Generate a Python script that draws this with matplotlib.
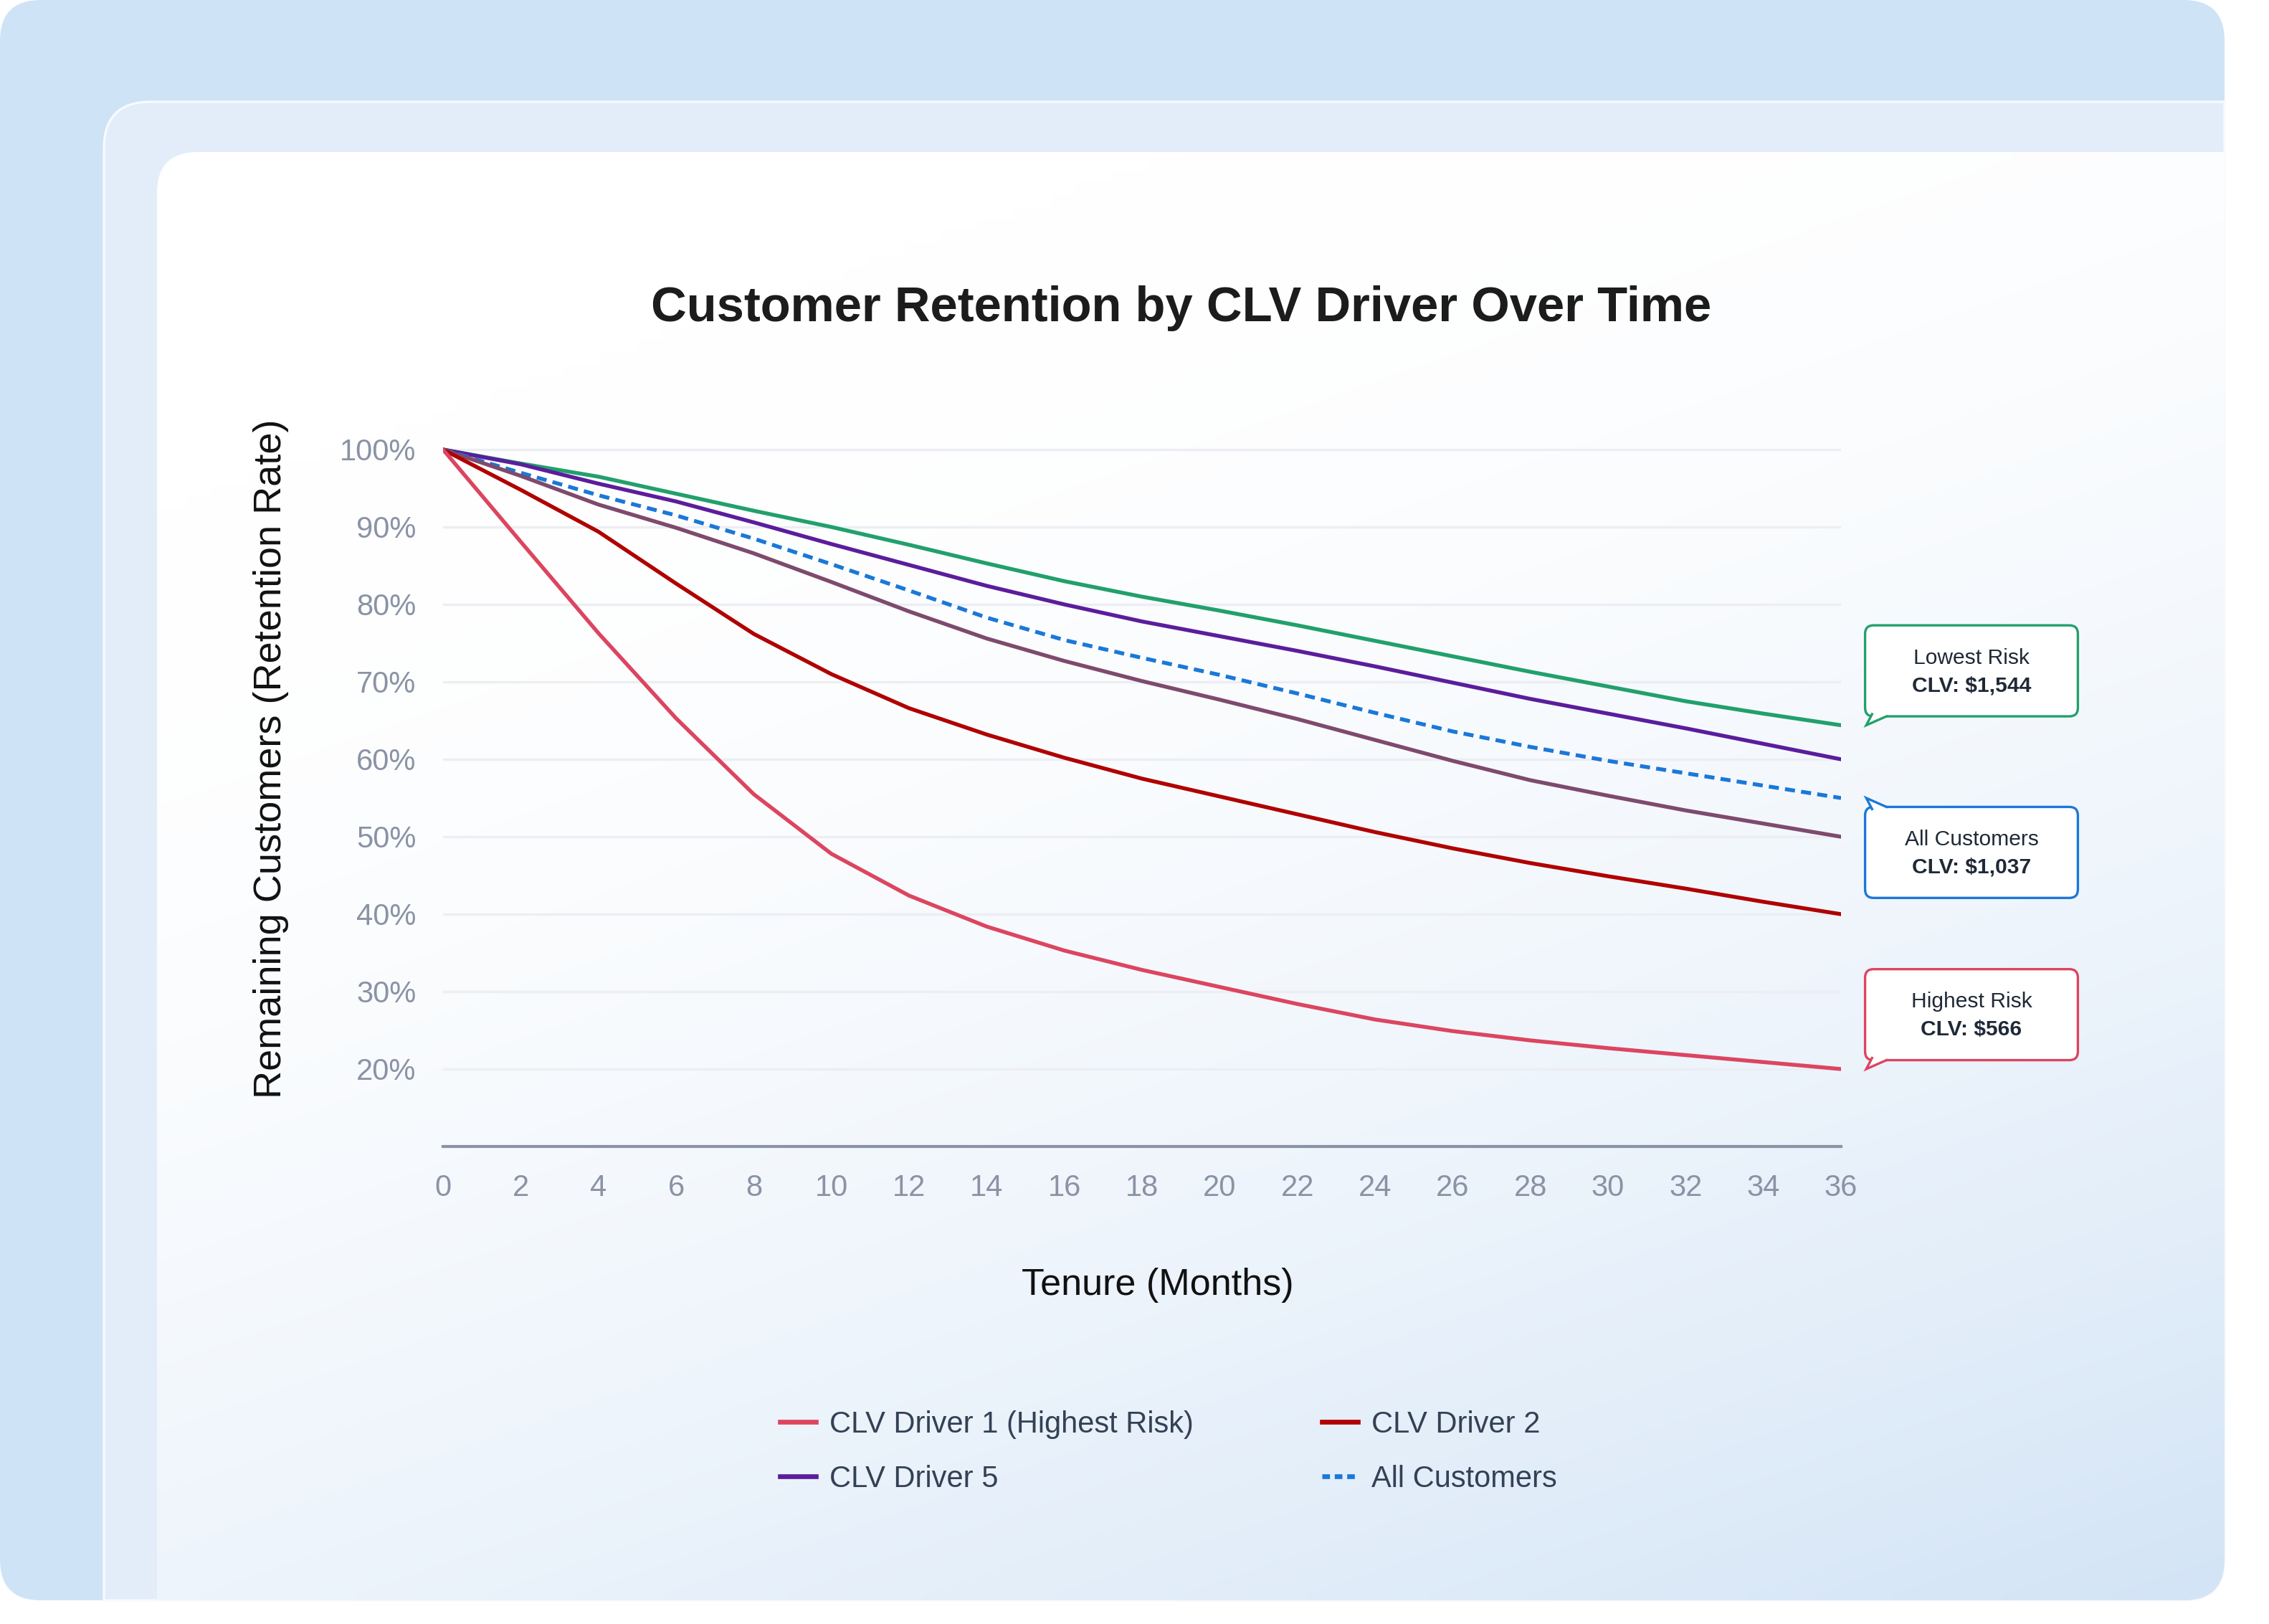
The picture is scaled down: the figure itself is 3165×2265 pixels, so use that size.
import numpy as np
import matplotlib.pyplot as plt
from matplotlib.patches import FancyBboxPatch, PathPatch, Polygon
from matplotlib.path import Path
from matplotlib.lines import Line2D
from matplotlib.colors import to_rgb

plt.rcParams['font.family'] = ['Liberation Sans', 'DejaVu Sans']

# data (every 2 months)
months = np.arange(0, 37, 2)
driver1 = [100, 88.1, 76.3, 65.3, 55.5, 47.8, 42.4, 38.4, 35.3, 32.8, 30.6, 28.4, 26.4, 24.9, 23.7, 22.7, 21.8, 20.9, 20.0]
driver2 = [100, 94.8, 89.4, 82.7, 76.2, 71.0, 66.6, 63.2, 60.2, 57.5, 55.2, 52.9, 50.6, 48.5, 46.6, 44.9, 43.3, 41.6, 40.0]
driver3 = [100, 96.6, 92.9, 89.9, 86.6, 82.9, 79.1, 75.6, 72.7, 70.1, 67.7, 65.2, 62.5, 59.8, 57.3, 55.3, 53.4, 51.7, 50.0]
driver4 = [100, 98.2, 96.5, 94.3, 92.1, 90.0, 87.7, 85.3, 83.0, 81.0, 79.2, 77.3, 75.3, 73.3, 71.3, 69.4, 67.5, 65.9, 64.4]
driver5 = [100, 98.1, 95.6, 93.3, 90.6, 87.8, 85.1, 82.4, 80.0, 77.8, 75.9, 74.0, 72.0, 69.9, 67.8, 65.9, 64.0, 62.0, 60.0]
all_customers = [100, 97.0, 94.1, 91.5, 88.5, 85.2, 81.8, 78.3, 75.4, 73.1, 70.9, 68.5, 66.0, 63.6, 61.6, 59.8, 58.2, 56.6, 55.0]

yticks = [20, 30, 40, 50, 60, 70, 80, 90, 100]
xticks = list(range(0, 37, 2))

callouts = [
    ('Lowest Risk', 'CLV: $1,544', driver4, '#22a06b', 'up'),
    ('All Customers', 'CLV: $1,037', all_customers, '#1a78d8', 'down'),
    ('Highest Risk', 'CLV: $566', driver1, '#dc4560', 'up'),
]

W, H = 3165, 2265
fig = plt.figure(figsize=(W / 300, H / 300), dpi=300)
fig.patch.set_facecolor('white')

# ---- background panels (pixel coordinates) ----
bg = fig.add_axes([0, 0, 1, 1], zorder=-10)
bg.axis('off')


def corner_path(x0, y0, x1, y1, r_tl, r_br):
    verts = [(x0, y0 + r_tl), (x0, y0), (x0 + r_tl, y0),
             (x1, y0), (x1, y1 - r_br), (x1, y1), (x1 - r_br, y1),
             (x0, y1), (x0, y0 + r_tl)]
    codes = [Path.MOVETO, Path.CURVE3, Path.CURVE3, Path.LINETO, Path.LINETO,
             Path.CURVE3, Path.CURVE3, Path.LINETO, Path.CLOSEPOLY]
    return Path(verts, codes)


panel = FancyBboxPatch((0, 0), 3103, 2232, boxstyle='round,pad=0,rounding_size=57',
                       fc='#cfe3f7', ec='none', zorder=1)
bg.add_patch(panel)
band = PathPatch(corner_path(145, 142, 3103, 2232, 65, 57), fc='#e2edf9',
                 ec='#f7fafe', lw=0.8, zorder=2)
bg.add_patch(band)
card = PathPatch(corner_path(219, 212, 3103, 2232, 57, 57), fc='none', ec='none', zorder=3)
bg.add_patch(card)

gh, gw = 120, 170
u = np.linspace(0, 1, gw)[None, :]
v = np.linspace(0, 1, gh)[:, None]
t = np.clip(0.4 * u + 0.8 * v - 0.2, 0, 1) ** 1.8
c0 = np.array([1.0, 1.0, 1.0])
c1 = np.array(to_rgb('#d3e4f6'))
img = c0 + (c1 - c0) * t[..., None]
im = bg.imshow(img, extent=(219, 3103, 2232, 212), interpolation='bilinear', zorder=3)
im.set_clip_path(card)
bg.set_aspect('auto')
bg.set_xlim(0, W)
bg.set_ylim(H, 0)

# ---- main chart ----
ax = fig.add_axes([618 / W, 1 - 1599 / H, (2568 - 618) / W, (1599 - 616.2) / H])
ax.patch.set_alpha(0)
ax.set_xlim(0, 36)
ax.set_ylim(10, 101)

lw = 1.3
ax.plot(months, driver4, color='#22a06b', lw=lw, solid_capstyle='round')
ax.plot(months, driver5, color='#5b1d9c', lw=lw, solid_capstyle='round')
ax.plot(months, all_customers, color='#1a78d8', lw=lw, linestyle=(0, (2.6, 1.6)))
ax.plot(months, driver3, color='#7e4a6d', lw=lw, solid_capstyle='round')
ax.plot(months, driver2, color='#b00000', lw=lw, solid_capstyle='round')
ax.plot(months, driver1, color='#dc4560', lw=lw, solid_capstyle='round')

ax.set_yticks(yticks)
ax.set_yticklabels([f'{v}%' for v in yticks])
ax.set_xticks(xticks)
ax.tick_params(length=0, pad=9, labelsize=10, labelcolor='#8a93a5')
ax.yaxis.grid(True, color='#eceef3', lw=0.8)
ax.set_axisbelow(True)
for s in ['left', 'right', 'top']:
    ax.spines[s].set_visible(False)
ax.spines['bottom'].set_color('#8a93a5')
ax.spines['bottom'].set_linewidth(1.0)

ax.set_ylabel('Remaining Customers (Retention Rate)', fontsize=13, color='#111111')
ax.yaxis.set_label_coords(-0.123, 0.55)
ax.yaxis.label.set_va('center')
ax.set_xlabel('Tenure (Months)', fontsize=12.5, color='#111111')
ax.xaxis.set_label_coords(0.511, -0.197)
ax.xaxis.label.set_va('center')

fig.text(0.5207, 0.8022, 'Customer Retention by CLV Driver Over Time', ha='center',
         va='baseline', fontsize=16.5, fontweight='bold', color='#1c1c1c')

# ---- callouts ----
p0 = ax.transData.transform((0, 0))
p1 = ax.transData.transform((1, 1))
aspect = (p1[0] - p0[0]) / (p1[1] - p0[1])

for head, value, series, color, side in callouts:
    xe, ye = months[-1], series[-1]
    x0, x1 = xe + 0.62, xe + 6.1
    sgn = 1 if side == 'up' else -1
    edge = ye + sgn * 1.15
    far = ye + sgn * 12.9
    yb, yt = min(edge, far), max(edge, far)
    box = FancyBboxPatch((x0, yb), x1 - x0, yt - yb,
                         boxstyle='round,pad=0,rounding_size=0.22',
                         mutation_aspect=aspect, fc='white', ec=color, lw=0.8,
                         clip_on=False, zorder=5)
    ax.add_patch(box)
    tip = (x0 + 0.03, ye)
    pl = (x0 + 0.18, edge + sgn * 0.28)
    pr = (x0 + 0.55, edge)
    fill = Polygon([pl, tip, pr, (pr[0], edge + sgn * 0.5), (pl[0], edge + sgn * 0.5)],
                   closed=True, fc='white', ec='none', clip_on=False, zorder=6)
    ax.add_patch(fill)
    ax.add_line(Line2D([pl[0], tip[0], pr[0]], [pl[1], tip[1], pr[1]], color=color,
                       lw=0.8, clip_on=False, zorder=7, solid_joinstyle='miter'))
    yc = (yb + yt) / 2
    xc = (x0 + x1) / 2
    ax.text(xc, yc + 1.65, head, ha='center', va='center', fontsize=7.2,
            color='#1f2937', zorder=8, clip_on=False)
    ax.text(xc, yc - 1.95, value, ha='center', va='center', fontsize=7.2,
            fontweight='bold', color='#1f2937', zorder=8, clip_on=False)

# ---- legend ----
handles = [
    Line2D([], [], color='#dc4560', lw=1.6),
    Line2D([], [], color='#5b1d9c', lw=1.6),
    Line2D([], [], color='#b00000', lw=1.6),
    Line2D([], [], color='#1a78d8', lw=1.6, linestyle=(0, (1.6, 1.0))),
]
labels = ['CLV Driver 1 (Highest Risk)', 'CLV Driver 5', 'CLV Driver 2', 'All Customers']
fig.legend(handles, labels, ncol=2, loc='center', bbox_to_anchor=(0.515, 0.106),
           frameon=False, fontsize=10, columnspacing=4.3, handlelength=1.2,
           handletextpad=0.45, labelspacing=0.86, labelcolor='#334155')

fig.savefig('out.png', dpi=300)
